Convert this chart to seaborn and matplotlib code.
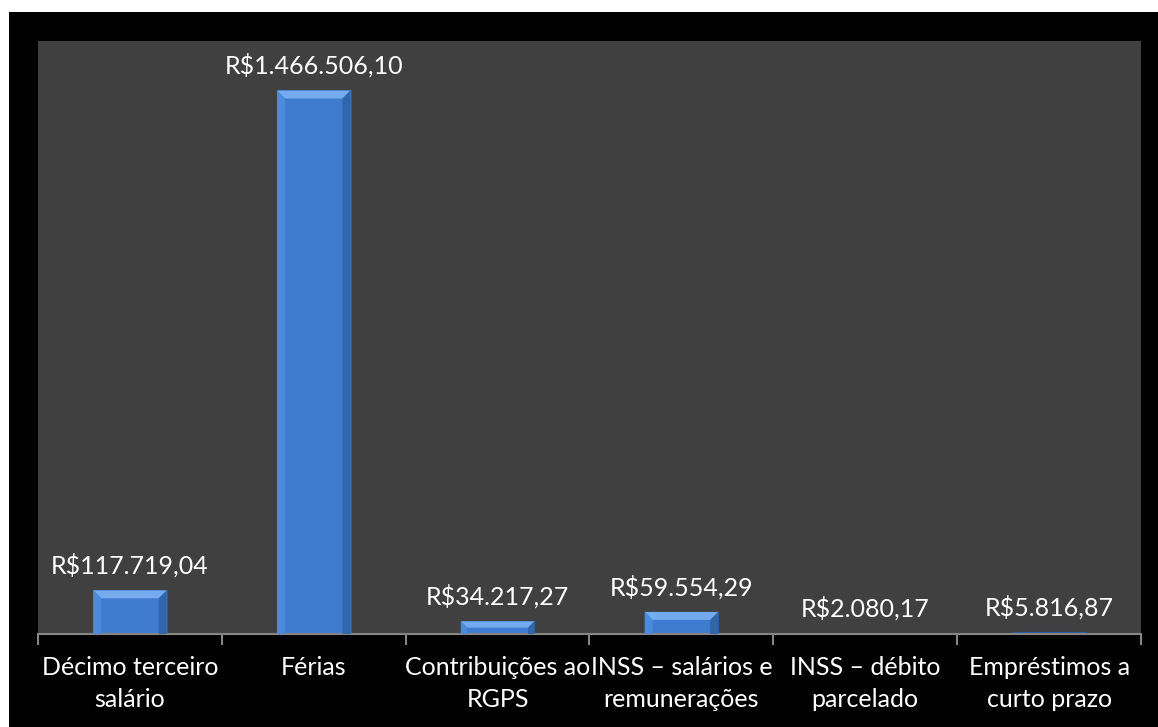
import numpy as np
import pandas as pd
import seaborn as sns
import matplotlib.pyplot as plt
from matplotlib.patches import Rectangle, Polygon

# dados
categorias = ['Décimo terceiro\nsalário', 'Férias', 'Contribuições ao\nRGPS',
              'INSS – salários e\nremunerações', 'INSS – débito\nparcelado',
              'Empréstimos a\ncurto prazo']
valores = [117719.04, 1466506.10, 34217.27, 59554.29, 2080.17, 5816.87]
rotulos = ['R$117.719,04', 'R$1.466.506,10', 'R$34.217,27',
           'R$59.554,29', 'R$2.080,17', 'R$5.816,87']

df = pd.DataFrame({'categoria': categorias, 'valor': valores})

sns.set_theme(style='white')
plt.rcParams['font.family'] = ['Lato', 'DejaVu Sans']

fig = plt.figure(figsize=(11.58, 7.27), dpi=100)
fig.patch.set_facecolor('white')
# fundo preto (faixa branca em cima e à esquerda)
fig.add_artist(Rectangle((9 / 1158, 0), 1 - 9 / 1158, 1 - 12 / 727,
                         transform=fig.transFigure, facecolor='black',
                         edgecolor='none', zorder=0))

ax = fig.add_axes([38 / 1158, 93 / 727, (1141 - 38) / 1158, (634 - 41) / 727])
ax.set_facecolor('#404040')

sns.barplot(data=df, x='categoria', y='valor', color='#3F7BCF', width=0.40,
            saturation=1, edgecolor='#2B5C9C', linewidth=0.8, ax=ax)

ax.set_xlim(-0.5, len(categorias) - 0.5)
ax.set_ylim(0, 1600000)

# efeito de bisel nas barras
fig.canvas.draw()
to_disp = ax.transData
to_data = ax.transData.inverted()
for p in ax.patches:
    x0, y0 = p.get_x(), p.get_y()
    x1, y1 = x0 + p.get_width(), y0 + p.get_height()
    (dx0, dy0), (dx1, dy1) = to_disp.transform([(x0, y0), (x1, y1)])
    if dy1 - dy0 < 3:
        continue
    b = min(8, (dy1 - dy0) / 2)
    pts = {
        'top': [(dx0, dy1), (dx1, dy1), (dx1 - b, dy1 - b), (dx0 + b, dy1 - b)],
        'left': [(dx0, dy0), (dx0, dy1), (dx0 + b, dy1 - b), (dx0 + b, dy0)],
        'right': [(dx1, dy0), (dx1, dy1), (dx1 - b, dy1 - b), (dx1 - b, dy0)],
    }
    cores = {'top': '#74AAEE', 'left': '#4C8ADC', 'right': '#3166AA'}
    for k, v in pts.items():
        ax.add_patch(Polygon(to_data.transform(v), closed=True,
                             facecolor=cores[k], edgecolor='none', zorder=3))

ax.bar_label(ax.containers[0], labels=rotulos, padding=9, color='white',
             fontsize=18)

# eixos
for s in ['top', 'right', 'left']:
    ax.spines[s].set_visible(False)
ax.spines['bottom'].set_color('#868686')
ax.spines['bottom'].set_linewidth(1.5)
ax.set_yticks([])
ax.set_xlabel('')
ax.set_ylabel('')
ax.set_xticks(np.arange(-0.5, len(categorias)), minor=True)
ax.tick_params(axis='x', which='minor', length=8, width=1.5, color='#868686',
               direction='out', bottom=True)
ax.tick_params(axis='x', which='major', length=0, pad=16, labelsize=18,
               labelcolor='white')
for t in ax.get_xticklabels():
    t.set_linespacing(1.45)

fig.savefig('out.png', dpi=100, facecolor=fig.get_facecolor())
